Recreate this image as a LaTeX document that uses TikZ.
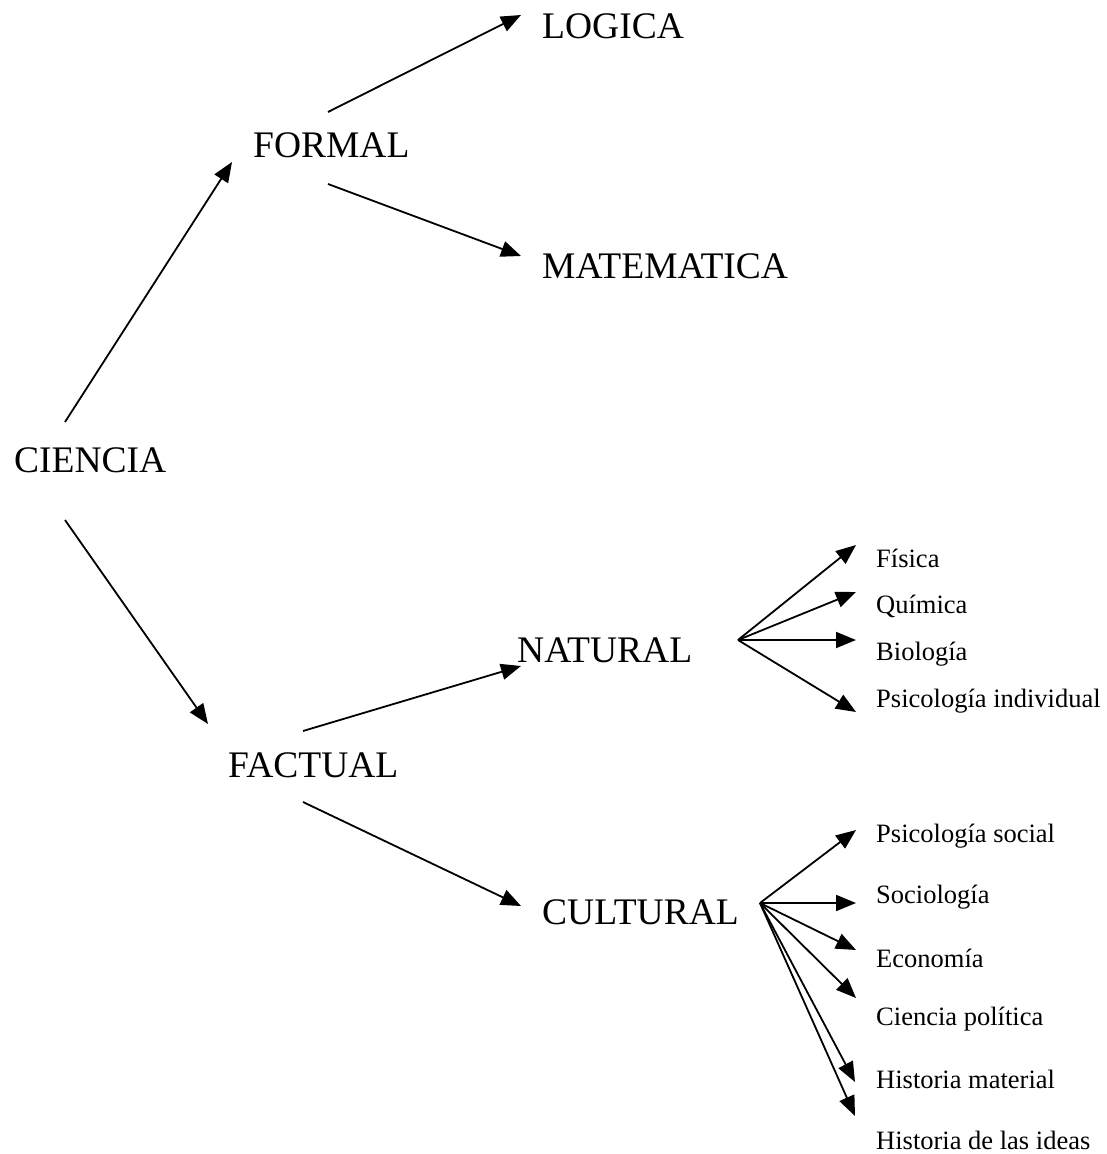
\documentclass[tikz,border=0pt]{standalone}
\usepackage{fontspec}
\setmainfont{Liberation Serif}
\usetikzlibrary{arrows.meta}
\tikzstyle{big}=[anchor=base west,inner sep=0pt,font=\fontsize{37.5}{40}\selectfont]
\tikzstyle{small}=[anchor=base west,inner sep=0pt,font=\fontsize{26.5}{28}\selectfont]
\tikzstyle{edge} = [draw,line width=1.8pt,-{Triangle[length=20pt,width=16pt]}]

\begin{document}
\begin{tikzpicture}[x=1pt,y=-1pt]
    \useasboundingbox (0,0) rectangle (1106,1154);
    % First the main branches
    \foreach \pos/\name/\txt in {{(542,38)/logica/LOGICA}, {(253,157)/formal/FORMAL}, {(542,278)/matematica/MATEMATICA}, {(14,472)/ciencia/CIENCIA}, {(517,662)/natural/NATURAL}, {(228,777)/factual/FACTUAL}, {(542,924)/cultural/CULTURAL}}
        \node[big] (\name) at \pos {\txt};

    % Then the leaves
    \foreach \pos/\name/\txt in {{(876,567)/fisica/Física}, {(876,613)/quimica/Química}, {(876,660)/biologia/Biología}, {(876,707)/psicind/Psicología individual}, {(876,842)/psicsoc/Psicología social}, {(876,903)/sociologia/Sociología}, {(876,967)/economia/Economía}, {(876,1025)/politica/Ciencia política}, {(876,1088)/histmat/Historia material}, {(876,1149)/histideas/Historia de las ideas}}
        \node[small] (\name) at \pos {\txt};

    % Ends of the arrows
    \foreach \pos/\name in {{(65,422)/ciencia_up}, {(232,162)/formal_in}, {(328,112)/formal_up}, {(521,15)/logica_in}, {(328,184)/formal_dn}, {(521,256)/matematica_in}, {(65,520)/ciencia_dn}, {(208,724)/factual_in}, {(303,731)/factual_up}, {(521,666)/natural_in}, {(303,802)/factual_dn}, {(521,906)/cultural_in}, {(738,640)/natural_out}, {(760,903)/cultural_out}, {(856,545)/fisica_in}, {(856,592)/quimica_in}, {(856,640)/biologia_in}, {(856,712)/psicind_in}, {(856,830)/psicsoc_in}, {(856,903)/sociologia_in}, {(856,950)/economia_in}, {(856,998)/politica_in}, {(855,1082)/histmat_in}, {(855,1116)/histideas_in}}
        \node[coordinate] (\name) at \pos {};

    % Connect with arrows
    \foreach \source/ \dest in {ciencia_up/formal_in, formal_up/logica_in, formal_dn/matematica_in, ciencia_dn/factual_in, factual_up/natural_in, factual_dn/cultural_in, natural_out/fisica_in, natural_out/quimica_in, natural_out/biologia_in, natural_out/psicind_in, cultural_out/psicsoc_in, cultural_out/sociologia_in, cultural_out/economia_in, cultural_out/politica_in, cultural_out/histmat_in, cultural_out/histideas_in}
        \path[edge] (\source) -- (\dest) ;

\end{tikzpicture}
\end{document}
